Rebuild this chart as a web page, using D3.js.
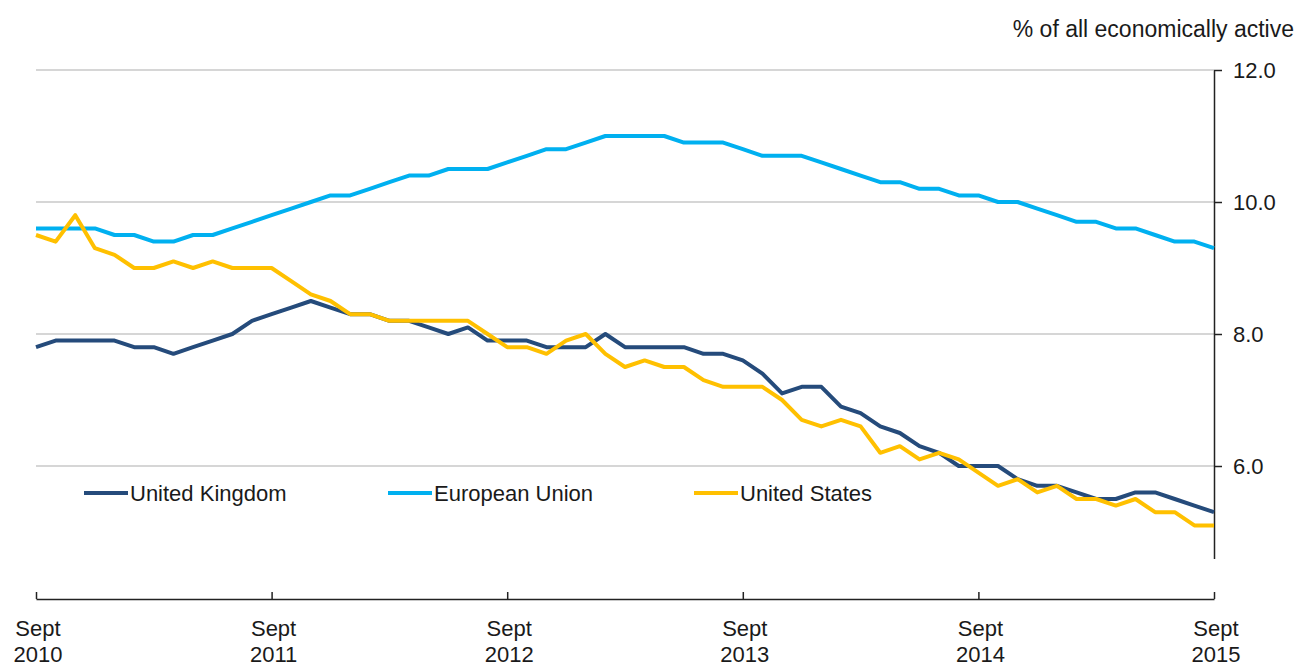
<!DOCTYPE html>
<html>
<head>
<meta charset="utf-8">
<script src="https://cdn.jsdelivr.net/npm/d3@7"></script>
<style>
  html, body { margin: 0; padding: 0; background: #fff; }
  svg { display: block; }
  text { font-family: "Liberation Sans", Arial, sans-serif; fill: #1a1a1a; }
</style>
</head>
<body>
<svg id="chart" width="1298" height="666"></svg>
<script>
// ---- data ----
const yearTickLabels = ["2010", "2011", "2012", "2013", "2014", "2015"];
const monthTickLabel = "Sept";
const yTicks = [6, 8, 10, 12];
const seriesNames = ["United Kingdom", "European Union", "United States"];
const seriesColors = ["#254b7b", "#00b0f0", "#ffc000"];

const ukValues = [7.8, 7.9, 7.9, 7.9, 7.9, 7.8, 7.8, 7.7, 7.8, 7.9, 8.0, 8.2, 8.3, 8.4, 8.5, 8.4,
  8.3, 8.3, 8.2, 8.2, 8.1, 8.0, 8.1, 7.9, 7.9, 7.9, 7.8, 7.8, 7.8, 8.0, 7.8, 7.8, 7.8, 7.8, 7.7,
  7.7, 7.6, 7.4, 7.1, 7.2, 7.2, 6.9, 6.8, 6.6, 6.5, 6.3, 6.2, 6.0, 6.0, 6.0, 5.8, 5.7, 5.7, 5.6,
  5.5, 5.5, 5.6, 5.6, 5.5, 5.4, 5.3];
const euValues = [9.6, 9.6, 9.6, 9.6, 9.5, 9.5, 9.4, 9.4, 9.5, 9.5, 9.6, 9.7, 9.8, 9.9, 10.0, 10.1,
  10.1, 10.2, 10.3, 10.4, 10.4, 10.5, 10.5, 10.5, 10.6, 10.7, 10.8, 10.8, 10.9, 11.0, 11.0, 11.0,
  11.0, 10.9, 10.9, 10.9, 10.8, 10.7, 10.7, 10.7, 10.6, 10.5, 10.4, 10.3, 10.3, 10.2, 10.2, 10.1,
  10.1, 10.0, 10.0, 9.9, 9.8, 9.7, 9.7, 9.6, 9.6, 9.5, 9.4, 9.4, 9.3];
const usValues = [9.5, 9.4, 9.8, 9.3, 9.2, 9.0, 9.0, 9.1, 9.0, 9.1, 9.0, 9.0, 9.0, 8.8, 8.6, 8.5,
  8.3, 8.3, 8.2, 8.2, 8.2, 8.2, 8.2, 8.0, 7.8, 7.8, 7.7, 7.9, 8.0, 7.7, 7.5, 7.6, 7.5, 7.5, 7.3,
  7.2, 7.2, 7.2, 7.0, 6.7, 6.6, 6.7, 6.6, 6.2, 6.3, 6.1, 6.2, 6.1, 5.9, 5.7, 5.8, 5.6, 5.7, 5.5,
  5.5, 5.4, 5.5, 5.3, 5.3, 5.1, 5.1];

const allSeries = [ukValues, euValues, usValues];

// ---- layout ----
const svg = d3.select("#chart");
const plotLeft = 36, plotRight = 1214, plotTop = 70, yAxisBottom = 558.4, xAxisY = 599;

const x = d3.scaleLinear().domain([0, ukValues.length - 1]).range([plotLeft, plotRight]);
const y = d3.scaleLinear().domain([4.6, 12]).range([yAxisBottom, plotTop]);

// gridlines
svg.append("g").selectAll("line").data(yTicks).join("line")
  .attr("x1", plotLeft).attr("x2", plotRight)
  .attr("y1", d => y(d)).attr("y2", d => y(d))
  .attr("stroke", "#c9c9c9").attr("stroke-width", 1.5);

// y axis (right)
const yAxis = d3.axisRight(y).tickValues(yTicks).tickFormat(d3.format(".1f"))
  .tickSizeInner(8).tickSizeOuter(0).tickPadding(11);
const gy = svg.append("g").attr("transform", `translate(${plotRight},0)`).call(yAxis);
gy.select(".domain").attr("stroke", "#222").attr("stroke-width", 1.5);
gy.selectAll(".tick line").attr("stroke", "#222").attr("stroke-width", 1.5);
gy.selectAll(".tick text").attr("font-size", 22).attr("fill", "#1a1a1a")
  .attr("font-family", "'Liberation Sans', Arial, sans-serif");

// x axis (bottom, ticks pointing up)
const yearIdx = yearTickLabels.map((_, i) => i * 12);
const xAxis = d3.axisBottom(x).tickValues(yearIdx).tickFormat("")
  .tickSizeInner(-7).tickSizeOuter(0);
const gx = svg.append("g").attr("transform", `translate(0,${xAxisY})`).call(xAxis);
gx.select(".domain").attr("stroke", "#222").attr("stroke-width", 1.5);
gx.selectAll(".tick line").attr("stroke", "#222").attr("stroke-width", 1.5);

const xl = svg.append("g").selectAll("text").data(yearTickLabels).join("text")
  .attr("x", (d, i) => x(yearIdx[i]) + 2)
  .attr("text-anchor", "middle").attr("font-size", 22);
xl.append("tspan").attr("x", (d, i) => x(yearIdx[i]) + 2).attr("y", 636).text(monthTickLabel);
xl.append("tspan").attr("x", (d, i) => x(yearIdx[i]) + 2).attr("y", 662).text(d => d);

// axis title
svg.append("text").attr("x", 1294).attr("y", 37).attr("text-anchor", "end")
  .attr("font-size", 23).text("% of all economically active");

// lines
const line = d3.line().x((d, i) => x(i)).y(d => y(d));
svg.append("g").selectAll("path").data(allSeries).join("path")
  .attr("d", line).attr("fill", "none")
  .attr("stroke", (d, i) => seriesColors[i]).attr("stroke-width", 4)
  .attr("stroke-linejoin", "round");

// legend
const legendX = [84, 388, 694];
const lg = svg.append("g").selectAll("g").data(seriesNames).join("g")
  .attr("transform", (d, i) => `translate(${legendX[i]},493)`);
lg.append("line").attr("x1", 0).attr("x2", 44).attr("y1", 0).attr("y2", 0)
  .attr("stroke", (d, i) => seriesColors[i]).attr("stroke-width", 4);
lg.append("text").attr("x", 46).attr("y", 8).attr("font-size", 22).text(d => d);
</script>
</body>
</html>
